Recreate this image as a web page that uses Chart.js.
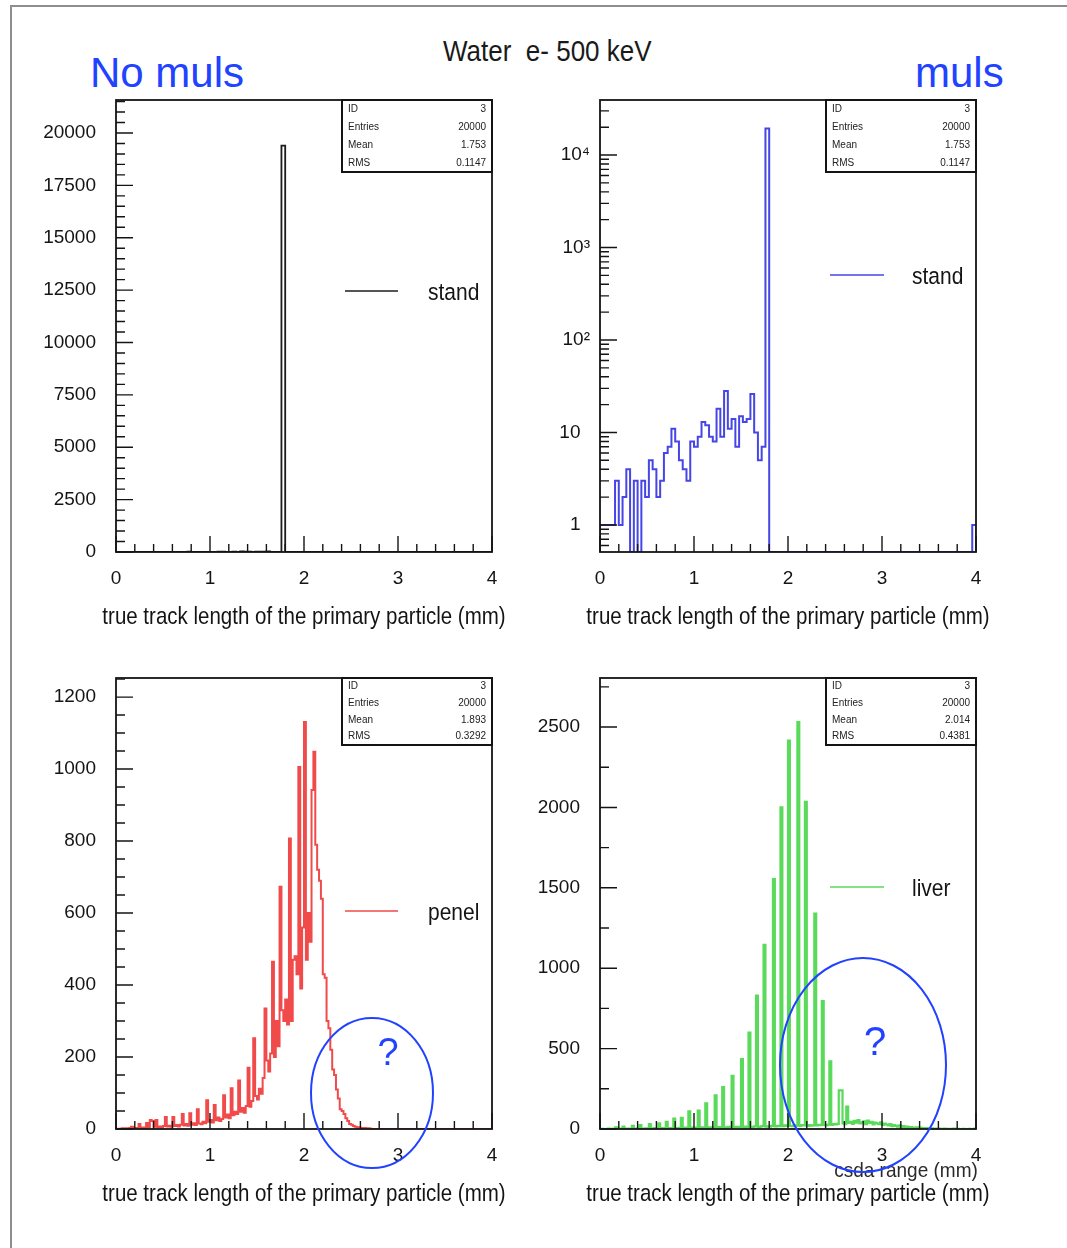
<!DOCTYPE html>
<html lang="en">
<head>
<meta charset="utf-8" />
<title>Water e- 500 keV</title>
<script src="https://cdn.jsdelivr.net/npm/chart.js@4.4.1/dist/chart.umd.min.js"></script>
<style>
  html, body { margin: 0; padding: 0; width: 1067px; height: 1248px; overflow: hidden; background: #fff; }
  body { font-family: "Liberation Sans", Arial, sans-serif; }
  .page { position: relative; width: 1067px; height: 1248px; }
  .frame { position: absolute; left: 10px; top: 5px; width: 1100px; height: 1300px; border: 2px solid #8e8e8e; }
  canvas { position: absolute; }
  .txt { position: absolute; white-space: pre; line-height: 1; }
</style>
</head>
<body>
<div class="page">
  <div class="frame"></div>
  <div class="txt" style="left:443px; top:39px; font-size:26px; color:#1a1a1a; transform:scale(1,1.15); transform-origin:0 22px;">Water  e- 500 keV</div>
  <div class="txt" style="left:90px; top:52px; font-size:42px; color:#2142ff;">No muls</div>
  <div class="txt" style="left:915px; top:52px; font-size:42px; color:#2142ff;">muls</div>
  <canvas id="tl" width="540" height="580" style="left:0; top:80px;"></canvas>
  <canvas id="tr" width="540" height="580" style="left:484px; top:80px;"></canvas>
  <canvas id="bl" width="540" height="580" style="left:0; top:658px;"></canvas>
  <canvas id="br" width="540" height="580" style="left:484px; top:658px;"></canvas>
</div>
<script>
// x axis, shared by the four panels
const xTickValues = [0, 1, 2, 3, 4];
const xTickLabels = ['0', '1', '2', '3', '4'];

// y axes
const standLinTicks = [0, 2500, 5000, 7500, 10000, 12500, 15000, 17500, 20000];
const standLogTicks = [1, 10, 100, 1000, 10000];
const standLogLabels = ['1\u2002', '10\u2002', '10²', '10³', '10⁴'];
const penelTicks = [0, 200, 400, 600, 800, 1000, 1200];
const liverTicks = [0, 500, 1000, 1500, 2000, 2500];

// stats boxes
const statsNames = ['ID', 'Entries', 'Mean', 'RMS'];
const standStats = ['3', '20000', '1.753', '0.1147'];
const penelStats = ['3', '20000', '1.893', '0.3292'];
const liverStats = ['3', '20000', '2.014', '0.4381'];

// "stand": 100 bins of 0.04 mm (same histogram, linear and log)
const standBinWidth = 0.04;
const standCounts = [
  1, 1, 1, 1, 3, 1, 2, 4, 0, 3,
  0, 3, 2, 5, 4, 2, 3, 6, 7, 11,
  8, 5, 4, 3, 8, 7, 9, 13, 12, 9,
  8, 18, 9, 28, 11, 14, 7, 15, 13, 14,
  26, 10, 5, 7, 19400, 0, 0, 0, 0, 0,
  0, 0, 0, 0, 0, 0, 0, 0, 0, 0,
  0, 0, 0, 0, 0, 0, 0, 0, 0, 0,
  0, 0, 0, 0, 0, 0, 0, 0, 0, 0,
  0, 0, 0, 0, 0, 0, 0, 0, 0, 0,
  0, 0, 0, 0, 0, 0, 0, 0, 0, 1
];

// "penel": bins of 0.02 mm
const penelBinWidth = 0.02;
const penelCounts = [
  0, 1, 0, 2, 1, 2, 1, 3, 6, 2,
  3, 2, 14, 3, 4, 3, 17, 4, 25, 22,
  6, 25, 5, 7, 4, 8, 33, 7, 9, 6,
  33, 8, 11, 7, 12, 42, 10, 14, 9, 44,
  12, 16, 11, 55, 15, 13, 20, 16, 80, 20,
  25, 18, 67, 24, 32, 22, 28, 94, 32, 40,
  30, 113, 38, 48, 42, 135, 48, 58, 45, 64,
  170, 62, 78, 252, 92, 82, 112, 98, 142, 335,
  190, 160, 210, 465, 200, 300, 230, 673, 330, 300,
  360, 290, 807, 300, 470, 480, 430, 1006, 390, 560,
  1131, 470, 600, 520, 942, 1048, 790, 720, 690, 640,
  430, 420, 300, 280, 220, 165, 150, 110, 85, 55,
  50, 42, 30, 22, 14, 12, 8, 6, 4, 5,
  3, 2, 3, 1, 2, 1
];

// "liver": bins of 0.02 mm
const liverBinWidth = 0.02;
const liverCounts = [
  0, 1, 0, 0, 2, 1, 0, 2, 10, 1, 2, 3, 15, 2, 1, 3, 2, 20, 3, 2,
  4, 25, 3, 2, 4, 3, 30, 4, 3, 5, 3, 35, 4, 5, 3, 45, 6, 4, 5, 65,
  5, 6, 7, 70, 6, 8, 5, 110, 7, 9, 6, 8, 115, 8, 10, 7, 160, 9, 11, 8,
  10, 210, 9, 12, 10, 260, 11, 10, 13, 12, 330, 12, 14, 11, 13, 435, 12, 15, 13, 600,
  14, 12, 16, 830, 13, 15, 18, 1145, 14, 17, 15, 19, 1555, 16, 20, 18, 2000, 17, 22, 19,
  2415, 20, 18, 23, 21, 2530, 19, 24, 22, 2035, 20, 25, 21, 23, 1340, 22, 26, 24, 795, 25,
  23, 27, 420, 26, 30, 28, 32, 240, 240, 35, 30, 140, 38, 45, 32, 50, 40, 55, 35, 42,
  48, 30, 52, 38, 45, 28, 40, 35, 30, 42, 25, 33, 28, 22, 30, 18, 25, 20, 15, 22,
  12, 18, 10, 15, 8, 12, 9, 6, 10, 5, 8, 4, 6, 3, 5, 2, 4, 3, 2, 1,
  2, 1, 0, 2, 1, 0, 1, 0, 2, 0, 1, 0, 0, 1, 0, 0, 1, 0, 0, 2
];

const FONT = 'Liberation Sans';
const INK = '#141414';
const NOTE_BLUE = '#2142ff';
Chart.defaults.font.family = FONT;
Chart.defaults.color = INK;

// histogram outline: one point per bin low edge, drawn as steps
function histogramPoints(counts, binWidth, floor) {
  const pts = [{ x: 0, y: floor }];
  counts.forEach((c, i) => pts.push({ x: i * binWidth, y: c > 0 ? c : floor }));
  const end = counts.length * binWidth;
  pts.push({ x: end, y: floor });
  if (end < 4) pts.push({ x: 4, y: floor });
  return pts;
}

function linearMinors(step, max, majors) {
  const out = [];
  for (let v = step; v <= max; v += step) {
    if (!majors.includes(v)) out.push(v);
  }
  return out;
}

function logMinors(min, max) {
  const out = [];
  for (let d = 0.1; d <= max; d *= 10) {
    for (let m = 2; m <= 9; m++) {
      const v = m * d;
      if (v >= min && v <= max) out.push(v);
    }
  }
  return out;
}

const panels = {
  tl: {
    counts: standCounts, binWidth: standBinWidth, color: '#1c1c1c', lw: 1.8, log: false, floor: 0,
    yMin: 0, yMax: 21575, yTicks: standLinTicks, yLabels: standLinTicks.map(String),
    yMinor: linearMinors(500, 21575, standLinTicks), xAxisHeight: 108,
    stats: standStats, statsH: 72,
    legend: { text: 'stand', x1: 229, x2: 282, tx: 312, dy: 191 },
  },
  tr: {
    counts: standCounts, binWidth: standBinWidth, color: '#4646e6', lw: 2, log: true, floor: 0.51,
    yMin: 0.51, yMax: 39350, yTicks: standLogTicks, yLabels: standLogLabels,
    yMinor: logMinors(0.51, 39350), xAxisHeight: 108,
    stats: standStats, statsH: 72,
    legend: { text: 'stand', x1: 230, x2: 284, tx: 312, dy: 175 },
  },
  bl: {
    counts: penelCounts, binWidth: penelBinWidth, color: '#f04a4a', lw: 2, log: false, floor: 0,
    yMin: 0, yMax: 1253, yTicks: penelTicks, yLabels: penelTicks.map(String),
    yMinor: linearMinors(50, 1253, penelTicks), xAxisHeight: 109,
    stats: penelStats, statsH: 67,
    legend: { text: 'penel', x1: 229, x2: 282, tx: 312, dy: 233 },
    circle: { cx: 256, cy: 415, rx: 61, ry: 75, qx: 272, qy: 377, qs: 38 },
  },
  br: {
    counts: liverCounts, binWidth: liverBinWidth, color: '#5ada5a', lw: 2.2, log: false, floor: 0,
    yMin: 0, yMax: 2805, yTicks: liverTicks, yLabels: liverTicks.map(String),
    yMinor: linearMinors(250, 2805, liverTicks), xAxisHeight: 109,
    stats: liverStats, statsH: 67,
    legend: { text: 'liver', x1: 230, x2: 284, tx: 312, dy: 209 },
    circle: { cx: 263, cy: 387, rx: 83, ry: 107, qx: 275, qy: 366, qs: 40 },
    extra: { text: 'csda range (mm)', dx: 306, dy: 492 },
  },
};

// text stretched a little vertically, like the condensed original font
function tallText(ctx, text, x, y, sy) {
  ctx.save();
  ctx.translate(x, y);
  ctx.scale(1, sy);
  ctx.fillText(text, 0, 0);
  ctx.restore();
}

// ROOT-like frame: inward ticks, box, stats, legend, axis title
const rootFrame = {
  id: 'rootFrame',
  afterDatasetsDraw(chart) {
    const p = panels[chart.canvas.id];
    const { ctx, chartArea: a } = chart;
    const xs = chart.scales.x, ys = chart.scales.y;
    ctx.save();
    ctx.strokeStyle = INK;
    ctx.lineWidth = 1.4;
    ctx.beginPath();
    for (let k = 0; k <= 20; k++) {
      const px = xs.getPixelForValue(k * 0.2);
      const len = k % 5 === 0 ? 16 : 8;
      ctx.moveTo(px, a.bottom);
      ctx.lineTo(px, a.bottom - len);
    }
    p.yTicks.forEach((v) => {
      const py = ys.getPixelForValue(v);
      ctx.moveTo(a.left, py);
      ctx.lineTo(a.left + 17, py);
    });
    p.yMinor.forEach((v) => {
      const py = ys.getPixelForValue(v);
      ctx.moveTo(a.left, py);
      ctx.lineTo(a.left + 9, py);
    });
    ctx.stroke();
    ctx.lineWidth = 1.8;
    ctx.strokeRect(a.left, a.top, a.right - a.left, a.bottom - a.top);
    ctx.restore();
  },
  afterDraw(chart) {
    const p = panels[chart.canvas.id];
    const { ctx, chartArea: a } = chart;
    ctx.save();

    // stats box
    const bw = 150, bx = a.right - bw, by = a.top;
    ctx.fillStyle = '#fff';
    ctx.fillRect(bx, by, bw, p.statsH);
    ctx.strokeStyle = INK;
    ctx.lineWidth = 2;
    ctx.strokeRect(bx, by, bw, p.statsH);
    ctx.fillStyle = '#222';
    ctx.font = '10px ' + FONT;
    ctx.textBaseline = 'middle';
    statsNames.forEach((name, i) => {
      const ry = by + p.statsH * (i + 0.5) / 4;
      ctx.textAlign = 'left';
      ctx.fillText(name, bx + 6, ry);
      ctx.textAlign = 'right';
      ctx.fillText(p.stats[i], bx + bw - 6, ry);
    });

    // legend entry
    const lg = p.legend;
    ctx.strokeStyle = p.color;
    ctx.lineWidth = 1.5;
    ctx.beginPath();
    ctx.moveTo(a.left + lg.x1, a.top + lg.dy);
    ctx.lineTo(a.left + lg.x2, a.top + lg.dy);
    ctx.stroke();
    ctx.fillStyle = INK;
    ctx.font = '21px ' + FONT;
    ctx.textAlign = 'left';
    ctx.textBaseline = 'alphabetic';
    tallText(ctx, lg.text, a.left + lg.tx, a.top + lg.dy + 9, 1.15);

    // x axis title
    ctx.font = '20.5px ' + FONT;
    ctx.textAlign = 'center';
    tallText(ctx, 'true track length of the primary particle (mm)', (a.left + a.right) / 2, a.bottom + 72, 1.15);

    if (p.extra) {
      ctx.font = '19px ' + FONT;
      ctx.fillStyle = '#2a2a2a';
      tallText(ctx, p.extra.text, a.left + p.extra.dx, a.top + p.extra.dy + 7, 1.1);
    }

    if (p.circle) {
      const c = p.circle;
      ctx.strokeStyle = NOTE_BLUE;
      ctx.lineWidth = 2;
      ctx.beginPath();
      ctx.ellipse(a.left + c.cx, a.top + c.cy, c.rx, c.ry, 0, 0, Math.PI * 2);
      ctx.stroke();
      ctx.fillStyle = NOTE_BLUE;
      ctx.font = c.qs + 'px ' + FONT;
      ctx.textAlign = 'center';
      ctx.textBaseline = 'middle';
      ctx.fillText('?', a.left + c.qx, a.top + c.qy);
    }
    ctx.restore();
  },
};

function drawPanel(id) {
  const p = panels[id];
  new Chart(document.getElementById(id), {
    type: 'line',
    data: {
      datasets: [{
        data: histogramPoints(p.counts, p.binWidth, p.floor),
        borderColor: p.color,
        borderWidth: p.lw,
        pointRadius: 0,
        stepped: true,
        fill: false,
      }],
    },
    options: {
      responsive: false,
      animation: false,
      devicePixelRatio: 1,
      layout: { padding: { top: 20, right: 48, bottom: 0, left: 0 } },
      plugins: { legend: { display: false }, tooltip: { enabled: false } },
      scales: {
        x: {
          type: 'linear', min: 0, max: 4,
          grid: { display: false, drawTicks: false },
          border: { display: false },
          afterBuildTicks: (s) => { s.ticks = xTickValues.map((v) => ({ value: v })); },
          afterFit: (s) => { s.height = p.xAxisHeight; s.paddingLeft = 0; s.paddingRight = 0; },
          ticks: {
            padding: 15, maxRotation: 0, autoSkip: false, color: INK,
            font: { size: 19 },
            callback: (v, i) => xTickLabels[i],
          },
        },
        y: {
          type: p.log ? 'logarithmic' : 'linear', min: p.yMin, max: p.yMax,
          grid: { display: false, drawTicks: false },
          border: { display: false },
          afterBuildTicks: (s) => { s.ticks = p.yTicks.map((v) => ({ value: v })); },
          afterFit: (s) => { s.width = 116; s.paddingTop = 0; s.paddingBottom = 0; },
          ticks: {
            padding: p.log ? 10 : 20, autoSkip: false, color: INK,
            font: { size: 19 },
            callback: (v, i) => p.yLabels[i],
          },
        },
      },
    },
    plugins: [rootFrame],
  });
}

['tl', 'tr', 'bl', 'br'].forEach(drawPanel);
</script>
</body>
</html>
